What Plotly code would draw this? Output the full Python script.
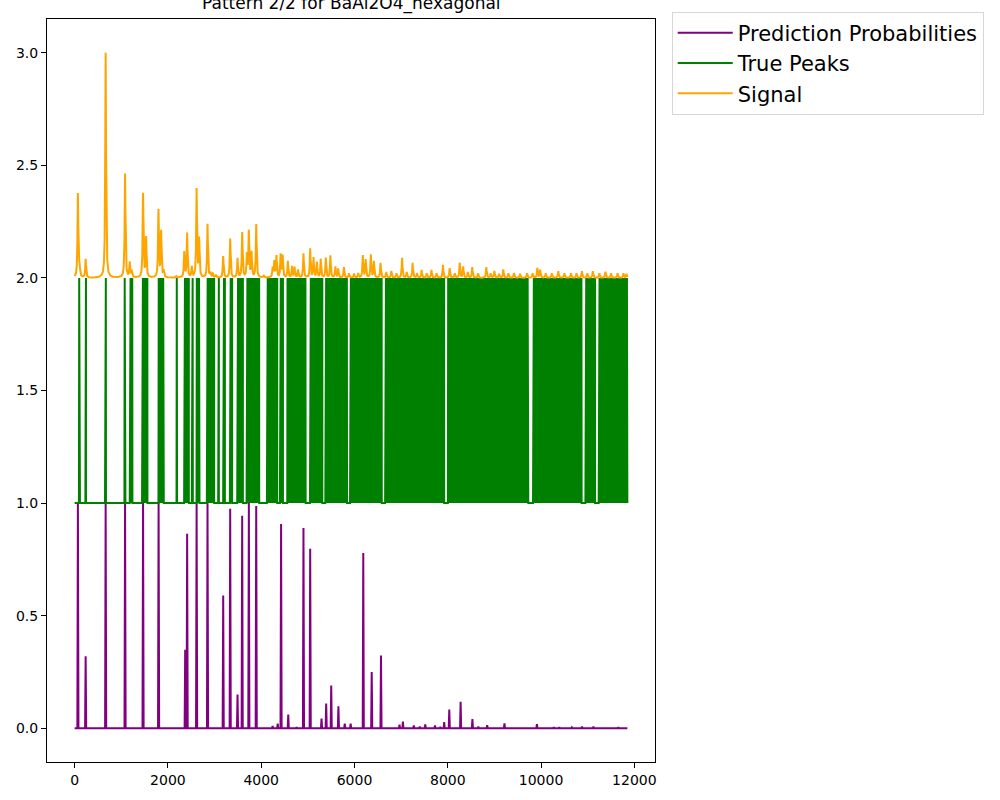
import numpy as np
import plotly.graph_objects as go

# pattern 2/2 for BaAl2O4_hexagonal

n_points = 11851
baseline = 2.0

# signal peaks: position, height above the 2.0 baseline
signal_pos = [70, 105, 236, 665, 1081, 1181, 1224, 1467, 1532, 1798, 1854, 1910,
              2180, 2350, 2412, 2512, 2615, 2669, 2849, 2910, 2960, 3030, 3185,
              3335, 3492, 3592, 3693, 3735, 3793, 3893, 4055,
              4245, 4281, 4327, 4417, 4460, 4571, 4661, 4715, 4790, 4906, 5050,
              5122, 5194, 5276, 5385, 5483, 5591, 5650, 5773, 5880, 5990, 6080,
              6179, 6240, 6350, 6416, 6559, 6680, 6790, 6900, 7020, 7120, 7246,
              7340, 7440, 7550, 7650, 7760, 7896, 8040, 8150, 8257, 8330, 8430,
              8525, 8650, 8826, 8920, 9000, 9100, 9190, 9300, 9420, 9550, 9700,
              9820, 9920, 9980, 10100, 10230, 10370, 10500, 10640, 10760, 10875,
              10990, 11110, 11250, 11380, 11500, 11640, 11765, 11830]
signal_height = [0.373, 0.04, 0.083, 1.0, 0.462, 0.066, 0.03, 0.373, 0.176, 0.299, 0.203, 0.03,
                 0.006, 0.113, 0.197, 0.046, 0.392, 0.169, 0.238, 0.02, 0.02, 0.012, 0.095,
                 0.173, 0.085, 0.200, 0.10, 0.203, 0.11, 0.236, 0.01,
                 0.043, 0.07, 0.095, 0.102, 0.097, 0.073, 0.05, 0.047, 0.035, 0.107, 0.128,
                 0.088, 0.068, 0.083, 0.088, 0.098, 0.049, 0.04, 0.047, 0.02, 0.018, 0.02,
                 0.099, 0.08, 0.102, 0.073, 0.066, 0.025, 0.03, 0.02, 0.088, 0.025, 0.066,
                 0.02, 0.035, 0.02, 0.035, 0.02, 0.058, 0.043, 0.02, 0.066, 0.05, 0.025,
                 0.047, 0.02, 0.047, 0.02, 0.03, 0.018, 0.037, 0.02, 0.022, 0.018, 0.02,
                 0.02, 0.043, 0.035, 0.02, 0.02, 0.03, 0.02, 0.02, 0.02, 0.03,
                 0.02, 0.03, 0.02, 0.027, 0.02, 0.02, 0.02, 0.018]
peak_gamma = 10

# predicted probabilities: position, probability
pred_pos = [70, 236, 665, 1081, 1467, 1800, 2370, 2412, 2615, 2849, 3185, 3335,
            3492, 3592, 3735, 3893, 4245, 4354, 4426, 4580, 4760, 4906, 5050,
            5293, 5393, 5501, 5655, 5791, 5917, 6188, 6369, 6568, 6965, 7038,
            7272, 7399, 7517, 7725, 7841, 7923, 8032, 8275, 8528, 8655, 8845,
            9215, 9290, 9400, 9500, 9911, 10273, 10390, 10660, 10877, 11122, 11655]
pred_prob = [1.0, 0.32, 1.0, 1.0, 1.0, 1.0, 0.349, 0.864, 1.0, 1.0, 0.589, 0.975,
             0.15, 0.944, 1.0, 0.987, 0.01, 0.02, 0.907, 0.061, 0.005, 0.889, 0.797,
             0.043, 0.11, 0.19, 0.098, 0.021, 0.021, 0.778, 0.25, 0.323, 0.016, 0.03,
             0.012, 0.007, 0.017, 0.012, 0.006, 0.027, 0.083, 0.117, 0.041, 0.007, 0.013,
             0.022, 0.003, 0.003, 0.003, 0.018, 0.005, 0.005, 0.004, 0.008, 0.008, 0.005]
spike_half = 12

# true peak stretches (start, end) - indicator drawn between 1 and 2
true_start = [92, 230, 651, 1067, 1181, 1445, 1797, 2184, 2347, 2512, 2613, 2834,
              3077, 3184, 3328, 3485, 3686,
              4122, 4401, 4558, 5045, 5374, 5904, 6656, 8002, 9827, 10950, 11235]
true_end = [114, 243, 672, 1089, 1239, 1561, 1911, 2196, 2448, 2534, 2677, 2991,
            3092, 3221, 3377, 3607, 3957,
            4343, 4466, 4953, 5310, 5840, 6585, 7922, 9726, 10870, 11158, 11845]

# build the three lines
x_sig = np.arange(n_points)
sig = np.full(n_points, baseline)
for p, h in zip(signal_pos, signal_height):
    sig += h * peak_gamma**2 / ((x_sig - p) ** 2 + peak_gamma**2)

px_pred, py_pred = [0], [0.0]
for p, h in zip(pred_pos, pred_prob):
    px_pred += [p - spike_half, p, p + spike_half]
    py_pred += [0.0, h, 0.0]
px_pred.append(n_points - 1)
py_pred.append(0.0)

px_true, py_true = [0], [1]
for a, b in zip(true_start, true_end):
    xs = list(np.arange(a, b, 6)) + [b]
    for i, xv in enumerate(xs):
        px_true.append(xv)
        py_true.append(1 if i % 2 == 0 else 2)
    px_true.append(b)
    py_true.append(1)
px_true.append(n_points - 1)
py_true.append(1)

fig = go.Figure()

fig.add_trace(go.Scatter(x=px_pred, y=py_pred, mode="lines", name="Prediction Probabilities",
                         legendgroup="a", line=dict(color="purple", width=2)))
fig.add_trace(go.Scatter(x=px_true, y=py_true, mode="lines", name="True Peaks",
                         legendgroup="b", line=dict(color="green", width=2)))
fig.add_trace(go.Scatter(x=x_sig, y=sig, mode="lines", name="Signal",
                         legendgroup="c", line=dict(color="orange", width=2)))

axis_style = dict(showgrid=False, zeroline=False, showline=True, linecolor="black",
                  linewidth=1, mirror=True, ticks="outside", ticklen=5, tickwidth=1,
                  tickcolor="black", tickfont=dict(size=14, color="black"))

fig.update_layout(
    width=1000, height=800,
    margin=dict(l=47, r=345, t=17, b=38),
    plot_bgcolor="white", paper_bgcolor="white",
    font=dict(family="DejaVu Sans", color="black"),
    xaxis=dict(range=[-592.5, 12442.5], tickvals=[0, 2000, 4000, 6000, 8000, 10000, 12000],
               tickformat="d", **axis_style),
    yaxis=dict(range=[-0.15, 3.15], tickvals=[0, 0.5, 1.0, 1.5, 2.0, 2.5, 3.0],
               tickformat=".1f", **axis_style),
    showlegend=True,
    legend=dict(x=1.0275, xanchor="left", y=1.01, yanchor="top",
                font=dict(size=21, family="DejaVu Sans"), bgcolor="white",
                bordercolor="#d6d6d6", borderwidth=1, tracegroupgap=0, itemwidth=55),
    annotations=[dict(text="Pattern 2/2 for BaAl2O4_hexagonal", xref="paper", yref="paper",
                      x=0.5, y=1, xanchor="center", yanchor="bottom", yshift=3,
                      showarrow=False, font=dict(size=17))],
)

# page margin off so the figure sits at the window's corner
fig.write_html("out.html", config={"displayModeBar": False},
               post_script="document.body.style.margin='0';")
